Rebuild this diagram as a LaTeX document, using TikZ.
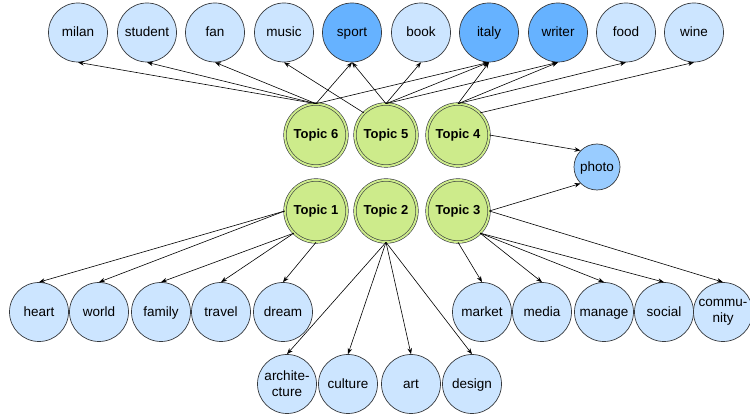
\documentclass[tikz,border=0pt]{standalone}
\usepackage{fontspec}
\setmainfont{Liberation Sans}
\usetikzlibrary{arrows.meta}
\definecolor{wordblue}{HTML}{CCE5FF}
\definecolor{hotblue}{HTML}{66B2FF}
\definecolor{photoblue}{HTML}{99CCFF}
\definecolor{topicgreen}{HTML}{CDEB8B}
\definecolor{strokegray}{HTML}{36393D}
\tikzset{
	word/.style={circle, draw=strokegray, line width=0.7pt, fill=wordblue, minimum size=59pt, inner sep=0pt, align=center, text height=10.6pt, text depth=2pt, font=\fontsize{13.5}{16}\selectfont},
	hotword/.style={word, fill=hotblue},
	twolines/.style={text height=, text depth=},
	topic/.style={circle, draw=strokegray, line width=0.6pt, double=topicgreen, double distance=2pt, fill=topicgreen, minimum size=62pt, inner sep=0pt, font=\fontsize{13}{15}\selectfont\bfseries},
	link/.style={-{Stealth[length=6pt,width=4.5pt]}, line width=0.6pt}
}

\begin{document}
\begin{tikzpicture}[x=1pt, y=-1pt]
	\useasboundingbox (0,0) rectangle (750,419);
	\node[word] (milan) at (78,32.5) {milan};
	\node[word] (student) at (147,32.5) {student};
	\node[word] (fan) at (215,32.5) {fan};
	\node[word] (music) at (284,32.5) {music};
	\node[hotword] (sport) at (352,32.5) {sport};
	\node[word] (book) at (421,32.5) {book};
	\node[hotword] (italy) at (489,32.5) {italy};
	\node[hotword] (writer) at (558,32.5) {writer};
	\node[word] (food) at (626,32.5) {food};
	\node[word] (wine) at (694,32.5) {wine};

	\node[topic] (t6) at (316,135) {Topic 6};
	\node[topic] (t5) at (386,135) {Topic 5};
	\node[topic] (t4) at (458,135) {Topic 4};
	\node[topic] (t1) at (316,211) {Topic 1};
	\node[topic] (t2) at (386,211) {Topic 2};
	\node[topic] (t3) at (458,211) {Topic 3};

	\node[word, fill=photoblue, minimum size=46pt] (photo) at (597,167) {photo};

	\node[word] (heart) at (39,312) {heart};
	\node[word] (world) at (99,312) {world};
	\node[word] (family) at (161,312) {family};
	\node[word] (travel) at (221,312) {travel};
	\node[word] (dream) at (283,312) {dream};
	\node[word] (market) at (482,312) {market};
	\node[word] (media) at (542,312) {media};
	\node[word] (manage) at (604,312) {manage};
	\node[word] (social) at (664,312) {social};
	\node[word, twolines] (community) at (723,312) {commu-\\nity};

	\node[word, twolines] (architecture) at (287,384) {archite-\\cture};
	\node[word] (culture) at (348,384) {culture};
	\node[word] (art) at (411,384) {art};
	\node[word] (design) at (472,384) {design};

	\draw[link] (t6.north) -- (milan.south);
	\draw[link] (t6.north) -- (student.south);
	\draw[link] (t6.north) -- (fan.south);
	\draw[link] (t6.north) -- (sport.south);
	\draw[link] (t6.north) -- (italy.south);

	\draw[link] (t5.north west) -- (music.south);
	\draw[link] (t5.north) -- (sport.south);
	\draw[link] (t5.north) -- (book.south);
	\draw[link] (t5.north) -- (italy.south);
	\draw[link] (t5.north) -- (writer.south);

	\draw[link] (t4.north) -- (italy.south);
	\draw[link] (t4.north) -- (writer.south);
	\draw[link] (t4.north) -- (food.south);
	\draw[link] (t4.north east) -- (wine.south);
	\draw[link] (t4.east) -- (photo.north west);

	\draw[link] (t1.west) -- (heart.north);
	\draw[link] (t1.west) -- (world.north);
	\draw[link] (t1.south west) -- (family.north);
	\draw[link] (t1.south west) -- (travel.north);
	\draw[link] (t1.south) -- (dream.north);

	\draw[link] (t2.south) -- (architecture.north);
	\draw[link] (t2.south) -- (culture.north);
	\draw[link] (t2.south) -- (art.north);
	\draw[link] (t2.south) -- (design.north);

	\draw[link] (t3.east) -- (photo.south west);
	\draw[link] (t3.south) -- (market.north);
	\draw[link] (t3.south east) -- (media.north);
	\draw[link] (t3.south east) -- (manage.north);
	\draw[link] (t3.south east) -- (social.north);
	\draw[link] (t3.east) -- (community.north);
\end{tikzpicture}
\end{document}
